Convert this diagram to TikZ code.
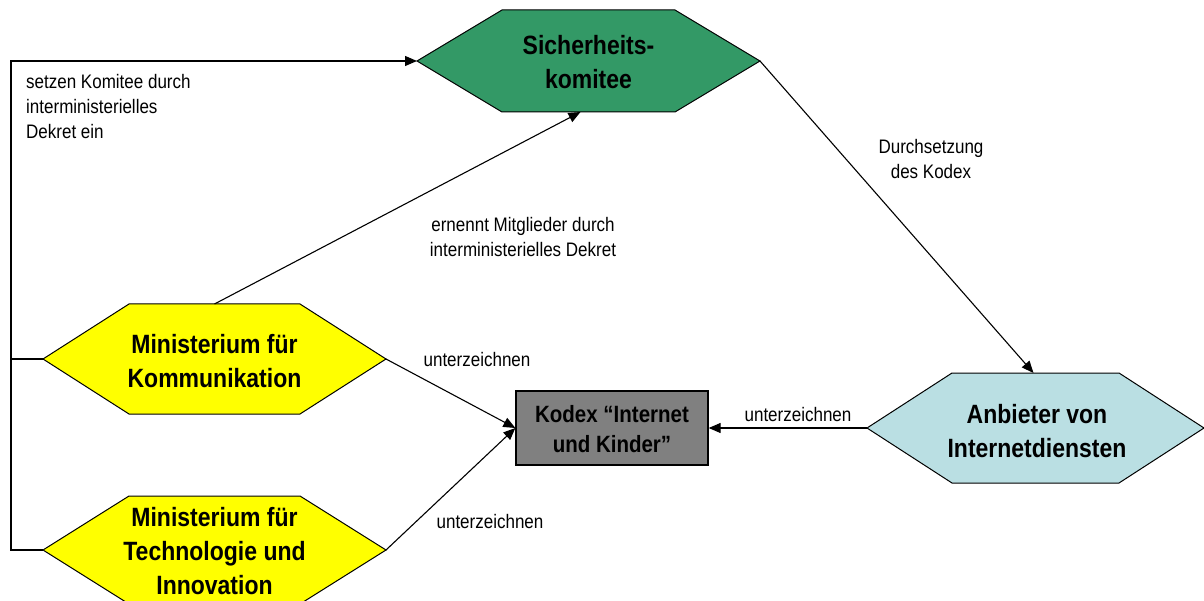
\documentclass[tikz,border=0pt]{standalone}
\usepackage{fontspec}
\setmainfont{Liberation Sans}
\usetikzlibrary{arrows.meta,calc}
\definecolor{komiteegreen}{HTML}{339966}
\definecolor{ministeryellow}{HTML}{FFFF00}
\definecolor{providerblue}{HTML}{BADFE3}
\definecolor{codexgray}{HTML}{808080}

% hexagon with pointed left/right ends:
% #1 name, #2 fill, #3 cx, #4 cy, #5 half width, #6 half height, #7 tip depth
\newcommand\hexagonshape[7]{%
  \coordinate (#1-w) at ({#3-#5},#4);
  \coordinate (#1-e) at ({#3+#5},#4);
  \coordinate (#1-n) at (#3,{#4-#6});
  \coordinate (#1-s) at (#3,{#4+#6});
  \draw[hexline, fill=#2] (#1-w) -- ({#3-#5+#7},{#4-#6}) -- ({#3+#5-#7},{#4-#6})
    -- (#1-e) -- ({#3+#5-#7},{#4+#6}) -- ({#3-#5+#7},{#4+#6}) -- cycle;
}

\begin{document}
\begin{tikzpicture}[x=1pt,y=-1pt,
  hexline/.style={draw=black, line width=1pt, line join=miter},
  bigtext/.style={font=\fontsize{23}{29.6}\selectfont\bfseries, align=center, yscale=1.15, inner sep=0pt},
  codextext/.style={font=\fontsize{20.5}{26}\selectfont\bfseries, align=center, yscale=1.15, inner sep=0pt},
  smalltext/.style={font=\fontsize{17}{21.7}\selectfont, yscale=1.15, inner sep=0pt},
  conn/.style={line width=1.1pt},
  arr/.style={conn, -{Triangle[length=12pt,width=10pt]}}]
\useasboundingbox (0,0) rectangle (1204,601);

% shapes
\hexagonshape{sk}{komiteegreen}{588.5}{61}{171.5}{51}{85}
\hexagonshape{mk}{ministeryellow}{214.5}{359}{171.5}{55}{86}
\hexagonshape{mt}{ministeryellow}{214.5}{550}{171.5}{54}{86}
\hexagonshape{pr}{providerblue}{1035.5}{428}{168.5}{55}{85}

\node[draw=black, line width=1.3pt, fill=codexgray, minimum width=192pt, minimum height=74pt] (kodex) at (612,428) {};

% texts in shapes
\node[bigtext] (sktext) at (588.5,62) {Sicherheits-\\komitee};
\node[bigtext] (mktext) at (214.5,361) {Ministerium für\\Kommunikation};
\node[bigtext] (mttext) at (214.5,551) {Ministerium für\\Technologie und\\Innovation};
\node[bigtext] (prtext) at (1037,431) {Anbieter von\\Internetdiensten};
\node[codextext] (kodextext) at (612,429) {Kodex “Internet\\und Kinder”};

% connectors
\coordinate (lb) at (11,550);
\draw[arr] (mt-w) -- (lb) |- (sk-w);
\draw[conn] (mk-w) -- (mk-w -| lb);
\draw[arr] (mk-n) -- ($(sk-s)+(-8,0)$);
\draw[arr] (sk-e) -- ($(pr-n)+(-2,0)$);
\draw[arr] (mk-e) -- (kodex.west);
\draw[arr] (mt-e) -- (kodex.west);
\draw[arr] (pr-w) -- (kodex.east);

% connector labels
\node[smalltext, anchor=north west, align=left] (lblsetzen) at (26,74) {setzen Komitee durch\\interministerielles\\Dekret ein};
\node[smalltext, align=center] (lblernennt) at (523,237) {ernennt Mitglieder durch\\interministerielles Dekret};
\node[smalltext, align=center] (lbldurch) at (931,159) {Durchsetzung\\des Kodex};
\node[smalltext] (lblmk) at (477,360) {unterzeichnen};
\node[smalltext] (lblpr) at (798,415) {unterzeichnen};
\node[smalltext] (lblmt) at (490,522) {unterzeichnen};
\end{tikzpicture}
\end{document}
